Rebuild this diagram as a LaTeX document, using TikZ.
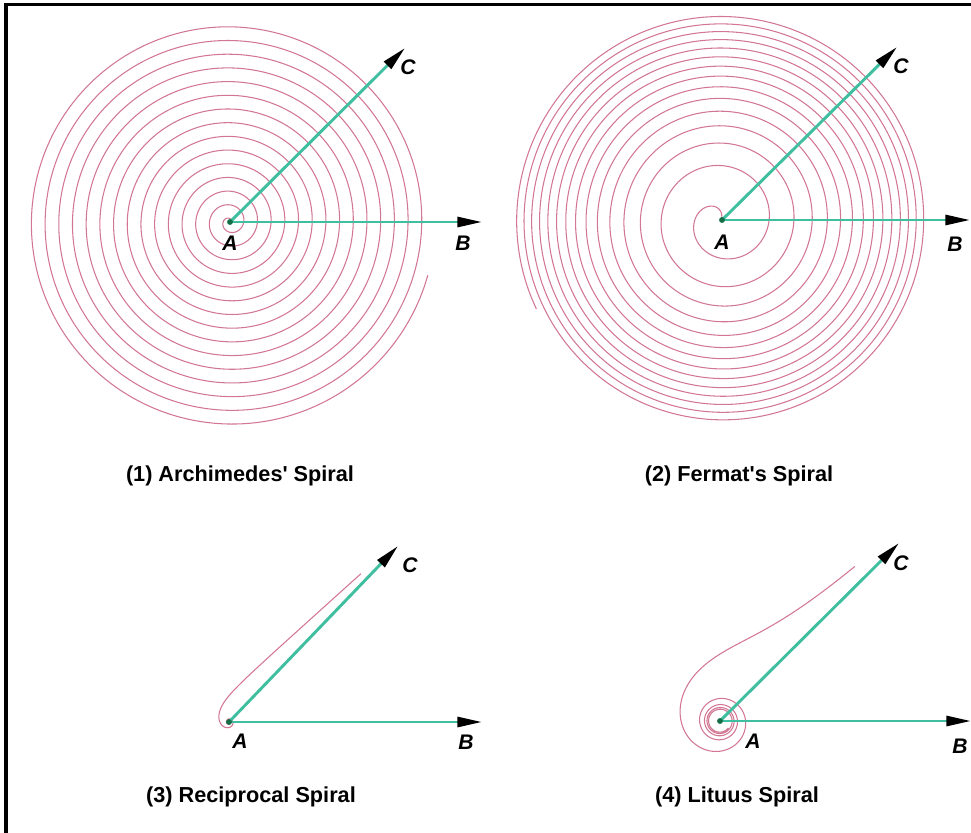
\documentclass[tikz,border=0pt]{standalone}
\usepackage{fontspec}
\newfontfamily\labfont{Liberation Sans}
\usetikzlibrary{arrows.meta}
\definecolor{spiralpink}{RGB}{210,118,148}
\definecolor{rayteal}{RGB}{64,190,160}
\definecolor{dotgreen}{RGB}{20,110,70}
\tikzset{
  spiral/.style={draw=spiralpink,line width=0.9pt,line join=round},
  ray/.style={draw=rayteal,line width=2.5pt,-{Triangle[length=21pt,width=8.5pt,color=black]}},
  ptlabel/.style={font=\labfont\fontsize{18}{20}\selectfont\bfseries\itshape,inner sep=0pt},
  caption/.style={font=\labfont\fontsize{18.5}{21}\selectfont\bfseries,inner sep=0pt},
  center dot/.style={circle,fill=dotgreen,inner sep=0pt,minimum size=5pt},
}
\begin{document}
\begin{tikzpicture}[x=0.03cm,y=-0.03cm]
\useasboundingbox (0,0) rectangle (971,833);
% frame
\draw[line width=2.6pt] (6,900) -- (6,4.5) -- (1000,4.5);

% ---------- (1) Archimedes ----------
\draw[spiral] plot[domain=0:94,samples=1500,smooth] ({230+2.18*\x*cos(\x r)},{222-2.18*\x*sin(\x r)});
\coordinate (A1) at (230,222);
\coordinate (B1) at (482,222);
\coordinate (C1) at (405,48);
\draw[ray] (A1) -- (B1);
\draw[ray] (A1) -- (C1);
\node[center dot] at (A1) {};
\node[ptlabel] (lA1) at (230,243) {A};
\node[ptlabel] (lB1) at (463,243) {B};
\node[ptlabel] (lC1) at (408,67) {C};
\node[caption] (cap1) at (240,476) {(1) Archimedes' Spiral};

% ---------- (2) Fermat ----------
\draw[spiral] plot[domain=0:90,samples=1500,smooth] ({722+21.7*sqrt(\x)*cos(90+deg(\x))},{220-21.7*sqrt(\x)*sin(90+deg(\x))});
\coordinate (A2) at (722,220);
\coordinate (B2) at (970,220);
\coordinate (C2) at (897,47);
\draw[ray] (A2) -- (B2);
\draw[ray] (A2) -- (C2);
\node[center dot] at (A2) {};
\node[ptlabel] (lA2) at (722,242) {A};
\node[ptlabel] (lB2) at (955,244) {B};
\node[ptlabel] (lC2) at (901,66) {C};
\node[caption] (cap2) at (739,476) {(2) Fermat's Spiral};

% ---------- (3) Reciprocal (hyperbolic) ----------
\draw[spiral] plot[domain=-2.2:2.9,samples=500,smooth] ({229+22/exp(\x)*cos(42+deg(exp(\x)))},{722-22/exp(\x)*sin(42+deg(exp(\x)))});
\coordinate (A3) at (229,722);
\coordinate (B3) at (482,722);
\coordinate (C3) at (398,546);
\draw[ray] (A3) -- (B3);
\draw[ray] (A3) -- (C3);
\node[center dot] at (A3) {};
\node[ptlabel] (lA3) at (240,741) {A};
\node[ptlabel] (lB3) at (466,742) {B};
\node[ptlabel] (lC3) at (410,565) {C};
\node[caption] (cap3) at (251,797) {(3) Reciprocal Spiral};

% ---------- (4) Lituus ----------
\draw[spiral] plot[domain=-2.457:3.4,samples=900,smooth] ({720+60/sqrt(exp(\x))*cos(44+deg(exp(\x)))},{721-60/sqrt(exp(\x))*sin(44+deg(exp(\x)))});
\coordinate (A4) at (720,721);
\coordinate (B4) at (971,721);
\coordinate (C4) at (899,543);
\draw[ray] (A4) -- (B4);
\draw[ray] (A4) -- (C4);
\node[center dot] at (A4) {};
\node[ptlabel] (lA4) at (753,741) {A};
\node[ptlabel] (lB4) at (960,746) {B};
\node[ptlabel] (lC4) at (901,563) {C};
\node[caption] (cap4) at (737,797) {(4) Lituus Spiral};
\end{tikzpicture}
\end{document}
